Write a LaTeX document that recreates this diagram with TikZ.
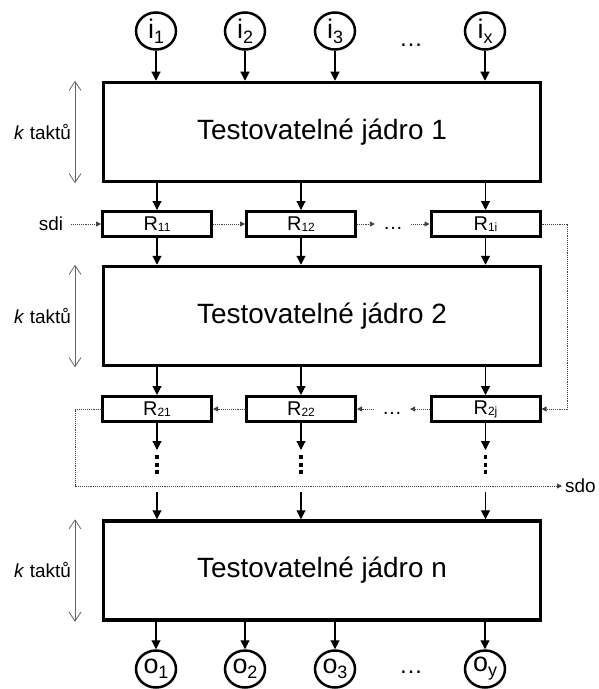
\documentclass[tikz,border=0pt]{standalone}
\usepackage{fontspec}
\setmainfont{Liberation Sans}
\usetikzlibrary{arrows.meta,shapes.geometric}
\newcommand\iolab[2]{{\fontsize{27}{27}\selectfont #1}\raisebox{-5bp}{\fontsize{18}{18}\selectfont #2}}
\newcommand\reglab[1]{R{\fontsize{12}{12}\selectfont\raisebox{-1bp}{#1}}}
\begin{document}
\begin{tikzpicture}[x=1bp,y=-1bp,
  core/.style={draw,line width=3.5bp,minimum width=437bp,minimum height=99bp,inner sep=0,font=\fontsize{28}{28}\selectfont},
  reg/.style={draw,line width=3bp,minimum width=109bp,minimum height=25bp,inner sep=0,font=\fontsize{20}{20}\selectfont},
  io/.style={draw,ellipse,line width=2.5bp,minimum width=40bp,minimum height=37bp,inner sep=0},
  arr/.style={line width=1.1bp,-{Triangle[length=9bp,width=9bp]}},
  dotarr/.style={line width=0.9bp,densely dotted,draw=black!75,-{Triangle[length=5bp,width=5bp]}},
  karr/.style={line width=0.8bp,draw=black!60,{Straight Barb[length=9bp,width=12bp]}-{Straight Barb[length=9bp,width=12bp]}},
  lbl/.style={font=\fontsize{19}{19}\selectfont,inner sep=0},
  rdots/.style={font=\fontsize{20}{20}\selectfont,inner ysep=0,inner xsep=8bp,text height=10bp,text depth=0bp},
  bigdots/.style={font=\fontsize{24}{24}\selectfont,inner sep=0},
]
\useasboundingbox (0,0) rectangle (599,689);

% inputs
\node[io] (i1) at (156,31) {\iolab{i}{1}};
\node[io] (i2) at (245,31) {\iolab{i}{2}};
\node[io] (i3) at (335,31) {\iolab{i}{3}};
\node[io] (ix) at (485,31) {\iolab{i}{x}};
\node[bigdots] (idots) at (411,45) {…};

% cores
\node[core] (box1) at (322,132) {Testovatelné jádro 1};
\node[core] (box2) at (322,316) {Testovatelné jádro 2};
\node[core] (boxn) at (322,570.5) {Testovatelné jádro n};

% registers
\node[reg] (R11) at (157,224) {\reglab{11}};
\node[reg] (R12) at (301,224) {\reglab{12}};
\node[reg] (R1i) at (485.5,224) {\reglab{1i}};
\node[reg] (R21) at (157,409) {\reglab{21}};
\node[reg] (R22) at (301,409) {\reglab{22}};
\node[reg] (R2j) at (485.5,409) {\reglab{2j}};
\node[rdots] (rd1) at (393,224) {…};
\node[rdots] (rd2) at (392,409) {…};

% outputs
\node[io] (o1) at (156,669) {\iolab{o}{1}};
\node[io] (o2) at (245,669) {\iolab{o}{2}};
\node[io] (o3) at (335,669) {\iolab{o}{3}};
\node[io] (oy) at (485,669) {\iolab{o}{y}};
\node[bigdots] (odots) at (411,672) {…};

% side labels
\node[lbl,inner xsep=8bp] (sdi) at (51,224) {sdi};
\node[lbl,anchor=west,inner xsep=3bp] (sdo) at (562,486) {sdo};
\node[lbl,anchor=east] (k1) at (71,132) {\textit{k} taktů};
\node[lbl,anchor=east] (k2) at (71,316) {\textit{k} taktů};
\node[lbl,anchor=east] (kn) at (71,570) {\textit{k} taktů};

\coordinate (kx) at (75,0);
\draw[karr] (kx |- box1.north) -- (kx |- box1.south);
\draw[karr] (kx |- box2.north) -- (kx |- box2.south);
\draw[karr] (kx |- boxn.north) -- (kx |- boxn.south);

% input arrows
\foreach \n in {i1,i2,i3,ix} \draw[arr] (\n) -- (\n |- box1.north);
% core1 -> regs row1 -> core2 -> regs row2
\foreach \n in {R11,R12,R1i} {
  \draw[arr] (\n |- box1.south) -- (\n);
  \draw[arr] (\n) -- (\n |- box2.north);
}
\foreach \n in {R21,R22,R2j} \draw[arr] (\n |- box2.south) -- (\n);

% continuation arrows and vertical dots
\coordinate (d1) at (157,450);
\coordinate (d2) at (301,450);
\coordinate (d3) at (485.5,450);
\coordinate (e1) at (157,492);
\coordinate (e2) at (301,492);
\coordinate (e3) at (485.5,492);
\draw[arr] (R21) -- (d1);
\draw[arr] (R22) -- (d2);
\draw[arr] (R2j) -- (d3);
\foreach \xx in {157,301,485.5}
  \foreach \yy in {457,464.5,472}
    \fill (\xx-1.6,\yy-2) rectangle (\xx+1.6,\yy+2);
\draw[arr] (e1) -- (e1 |- boxn.north);
\draw[arr] (e2) -- (e2 |- boxn.north);
\draw[arr] (e3) -- (e3 |- boxn.north);

% output arrows
\foreach \n in {o1,o2,o3,oy} \draw[arr] (\n |- boxn.south) -- (\n);

% scan chain
\coordinate (c1) at (567,224);
\coordinate (c2) at (567,409);
\coordinate (c3) at (75,409);
\coordinate (c4) at (75,486);
\draw[dotarr] (sdi) -- (R11);
\draw[dotarr] (R11) -- (R12);
\draw[dotarr] (R12) -- (rd1);
\draw[dotarr] (rd1) -- (R1i);
\draw[dotarr] (R1i) -- (c1) -- (c2) -- (R2j);
\draw[dotarr] (R2j) -- (rd2);
\draw[dotarr] (rd2) -- (R22);
\draw[dotarr] (R22) -- (R21);
\draw[dotarr] (R21) -- (c3) -- (c4) -- (sdo);
\end{tikzpicture}
\end{document}
